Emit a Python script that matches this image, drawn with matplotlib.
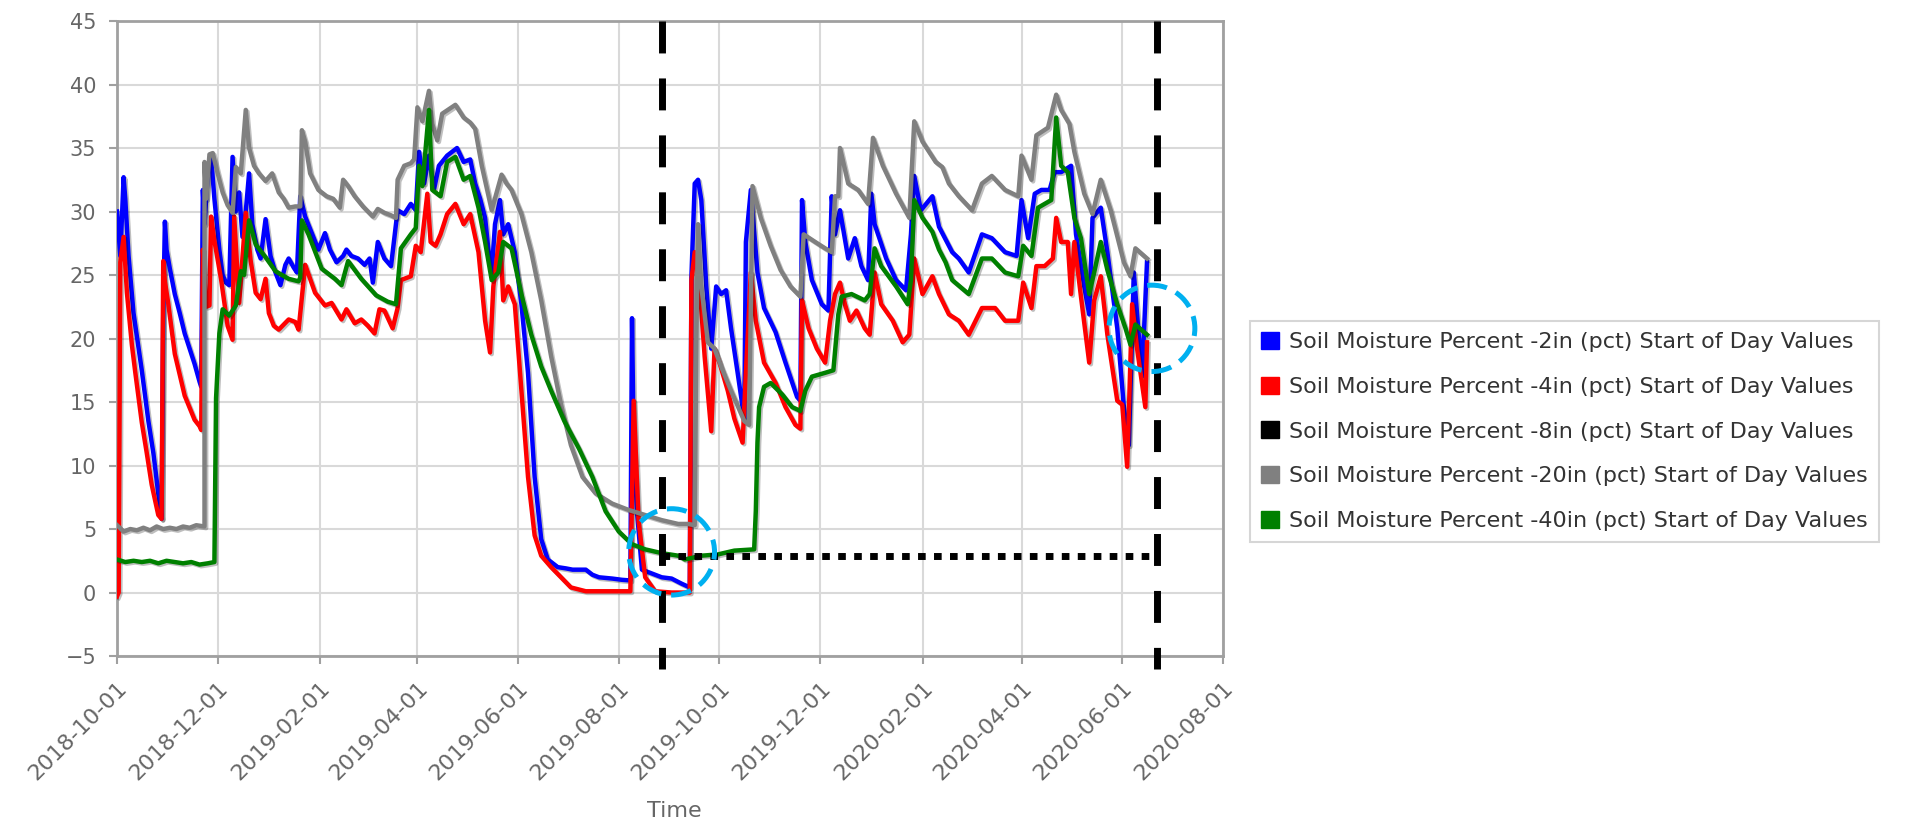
import datetime as dt
import matplotlib
matplotlib.use("Agg")
import matplotlib.pyplot as plt
import matplotlib.dates as mdates
import matplotlib.patheffects as pe
from matplotlib.patches import Patch, Ellipse

# day offsets are counted from the first day of the record
start = dt.date(2018, 10, 1)
end = dt.date(2020, 8, 1)

days_2in = [0, 2, 4, 5, 7, 10, 15, 19, 22, 25, 27, 28, 29, 30, 32, 35, 38, 41, 44, 47, 50, 51,
            52, 53, 55, 57, 59, 62, 64, 66, 68, 70, 72, 74, 76, 78, 80, 82, 85, 87, 90, 93, 96,
            99, 102, 104, 107, 109, 111, 114, 118, 122, 126, 129, 133, 137, 139, 142, 146, 150,
            153, 155, 158, 162, 166, 170, 174, 178, 181, 183, 186, 189, 192, 195, 200, 206, 210,
            214, 217, 220, 223, 225, 227, 229, 232, 234, 237, 241, 245, 249, 253, 257, 261, 267,
            272, 276, 284, 288, 292, 300, 306, 311, 312, 313, 315, 318, 324, 330, 336, 342, 347,
            348, 350, 352, 354, 357, 360, 363, 366, 369, 372, 376, 380, 381, 384, 388, 392, 399,
            405, 412, 414, 415, 417, 421, 427, 431, 433, 435, 438, 443, 447, 451, 455, 457, 459,
            466, 472, 478, 481, 483, 487, 494, 498, 506, 510, 516, 524, 530, 538, 545, 548, 552,
            556, 560, 565, 568, 572, 578, 581, 586, 589, 591, 596, 600, 606, 610, 613, 616, 618,
            621, 624]
pct_2in = [30.0, 26.5, 32.7, 31.0, 26.5, 22.0, 17.5, 13.5, 11.0, 7.8, 5.8, 22.0, 29.2, 27.0, 25.5,
           23.5, 22.0, 20.4, 19.2, 18.0, 16.6, 16.2, 31.7, 29.0, 33.0, 34.3, 31.0, 27.0, 25.0,
           24.4, 24.2, 34.3, 30.0, 31.5, 28.0, 30.0, 33.0, 29.0, 27.0, 26.3, 29.4, 26.5, 25.2,
           24.2, 25.8, 26.3, 25.6, 25.2, 31.2, 29.6, 28.3, 27.0, 28.3, 27.0, 26.0, 26.5, 27.0,
           26.5, 26.3, 25.8, 26.3, 24.4, 27.6, 26.3, 25.7, 30.1, 29.8, 30.6, 30.1, 34.7, 32.2,
           34.4, 31.7, 33.6, 34.4, 35.0, 33.9, 34.1, 32.2, 31.0, 29.5, 27.0, 25.2, 29.0, 30.9,
           28.2, 29.0, 26.8, 22.7, 17.3, 9.1, 4.2, 2.6, 2.0, 1.9, 1.8, 1.8, 1.4, 1.2, 1.1, 1.0,
           0.95, 21.6, 12.0, 6.4, 1.8, 1.5, 1.2, 1.1, 0.7, 0.4, 24.9, 32.2, 32.5, 30.9, 24.1,
           19.2, 24.1, 23.5, 23.8, 20.8, 17.3, 13.7, 27.6, 31.7, 25.2, 22.4, 20.5, 18.1, 15.4,
           15.1, 30.9, 27.6, 24.6, 22.7, 22.2, 31.2, 28.2, 30.1, 26.3, 27.9, 25.7, 24.6, 31.4,
           29.0, 26.3, 24.6, 23.8, 28.2, 32.8, 30.1, 31.2, 28.8, 26.8, 26.3, 25.2, 28.2, 27.9,
           26.8, 26.5, 30.9, 27.9, 31.4, 31.7, 31.7, 33.1, 33.1, 33.6, 28.2, 24.1, 21.9, 29.5,
           30.3, 26.8, 20.8, 14.6, 11.6, 25.2, 21.9, 17.0, 26.0]

days_4in = [0, 1, 2, 4, 6, 9, 11, 15, 18, 21, 25, 27, 28, 29, 31, 35, 41, 47, 50, 51, 52, 54,
            56, 57, 59, 63, 67, 70, 71, 74, 78, 81, 84, 87, 90, 92, 95, 98, 104, 108, 110, 114,
            120, 126, 130, 136, 139, 144, 148, 152, 156, 159, 162, 167, 170, 172, 178, 181, 184,
            188, 190, 193, 196, 200, 205, 210, 214, 219, 223, 226, 228, 232, 234, 237, 241, 245,
            249, 253, 257, 263, 269, 275, 284, 300, 311, 313, 316, 320, 326, 336, 347, 348, 350,
            353, 356, 360, 362, 365, 370, 374, 379, 381, 384, 387, 392, 399, 405, 411, 414, 415,
            419, 424, 429, 432, 435, 438, 441, 444, 448, 453, 456, 459, 463, 470, 476, 480, 483,
            488, 494, 498, 504, 510, 516, 524, 532, 538, 546, 549, 554, 557, 562, 567, 569, 572,
            576, 578, 580, 584, 589, 592, 596, 600, 606, 609, 612, 615, 618, 623, 624]
pct_4in = [-0.3, 0.0, 26.0, 28.0, 23.6, 19.5, 17.4, 13.4, 11.0, 8.5, 6.1, 5.8, 26.1, 24.5, 22.8,
           18.8, 15.5, 13.6, 13.1, 12.8, 27.0, 22.5, 22.6, 29.6, 27.7, 24.7, 21.0, 19.9, 29.6,
           22.8, 29.9, 26.1, 23.6, 23.1, 24.7, 22.0, 21.0, 20.7, 21.5, 21.3, 20.7, 25.8, 23.6,
           22.6, 22.8, 21.5, 22.3, 21.2, 21.5, 21.0, 20.4, 22.3, 22.2, 20.8, 22.4, 24.6, 24.9,
           27.3, 26.8, 31.4, 27.6, 27.3, 28.2, 29.8, 30.6, 29.0, 29.8, 26.8, 21.4, 18.9, 24.1,
           28.4, 23.0, 24.1, 22.7, 15.9, 9.1, 4.5, 2.9, 2.0, 1.2, 0.4, 0.1, 0.1, 0.1, 15.1, 5.6,
           1.2, 0.1, 0.0, 0.0, 24.6, 26.8, 24.1, 18.6, 12.7, 19.2, 18.1, 15.9, 13.7, 11.8, 17.3,
           25.2, 21.4, 18.1, 16.5, 14.6, 13.2, 12.9, 23.0, 20.8, 19.2, 18.1, 21.4, 23.5, 24.4,
           22.7, 21.4, 22.2, 20.8, 20.3, 25.2, 22.7, 21.4, 19.7, 20.3, 26.3, 23.5, 24.9, 23.5,
           21.9, 21.4, 20.3, 22.4, 22.4, 21.4, 21.4, 24.4, 22.4, 25.7, 25.7, 26.3, 29.5, 27.6,
           27.6, 23.5, 27.6, 23.3, 18.1, 23.0, 24.9, 20.3, 15.1, 14.8, 9.9, 22.7, 19.2, 14.6, 19.7]

# the 8in sensor reported nothing over this period
days_8in = []
pct_8in = []

days_20in = [0, 4, 8, 12, 16, 20, 24, 28, 32, 36, 40, 44, 48, 53, 53, 54, 56, 58, 61, 64, 67,
             70, 72, 75, 78, 80, 83, 86, 90, 94, 98, 101, 104, 108, 111, 112, 114, 117, 122, 127,
             131, 135, 137, 140, 144, 149, 155, 158, 162, 166, 169, 170, 174, 178, 180, 182, 185,
             189, 191, 194, 197, 205, 210, 214, 217, 221, 227, 230, 233, 236, 239, 245, 251, 257,
             263, 269, 275, 282, 290, 300, 310, 320, 330, 340, 346, 350, 351, 352, 354, 358, 362,
             366, 372, 380, 383, 385, 390, 396, 402, 408, 414, 416, 423, 429, 433, 435, 437, 438,
             443, 449, 455, 458, 464, 472, 480, 483, 488, 496, 500, 504, 510, 518, 524, 530, 538,
             546, 548, 554, 557, 564, 569, 572, 577, 580, 586, 591, 596, 602, 610, 614, 617, 624]
pct_20in = [5.3, 4.8, 5.0, 4.9, 5.1, 4.9, 5.2, 5.0, 5.1, 5.0, 5.2, 5.1, 5.3, 5.2, 33.9, 31.0, 34.5,
            34.6, 33.0, 31.5, 30.5, 29.9, 33.5, 33.0, 38.0, 35.0, 33.6, 33.0, 32.4, 33.0, 31.5,
            31.0, 30.3, 30.4, 30.4, 36.4, 35.5, 33.0, 31.7, 31.2, 31.0, 30.3, 32.5, 32.0, 31.2,
            30.4, 29.6, 30.2, 29.9, 29.7, 29.5, 32.5, 33.6, 33.8, 34.1, 38.2, 37.1, 39.5, 36.9,
            35.6, 37.7, 38.4, 37.4, 37.0, 36.5, 33.6, 30.1, 31.5, 32.9, 32.2, 31.7, 29.8, 26.8,
            23.0, 18.6, 14.8, 11.6, 9.1, 7.8, 7.0, 6.5, 6.1, 5.7, 5.4, 5.4, 5.3, 20.0, 29.0, 24.1,
            19.7, 19.2, 17.8, 15.9, 13.5, 13.2, 32.0, 29.5, 27.3, 25.4, 24.1, 23.3, 28.2, 27.6,
            27.1, 26.8, 31.2, 31.2, 35.0, 32.2, 31.7, 30.6, 35.8, 33.6, 31.4, 29.5, 37.1, 35.5,
            33.9, 33.5, 32.2, 31.2, 30.1, 32.2, 32.8, 31.7, 31.2, 34.4, 32.5, 36.0, 36.6, 39.2,
            38.0, 36.9, 34.7, 31.4, 29.8, 32.5, 30.1, 26.0, 24.9, 27.1, 26.3]

days_40in = [0, 5, 10, 15, 20, 25, 30, 35, 40, 45, 50, 55, 59, 60, 62, 64, 68, 72, 75, 77, 80, 84,
             90, 96, 104, 110, 111, 112, 116, 124, 132, 136, 140, 148, 157, 164, 169, 172, 178,
             181, 183, 185, 189, 191, 196, 200, 205, 210, 214, 219, 223, 227, 231, 234, 239, 245,
             251, 257, 263, 271, 280, 288, 296, 304, 312, 320, 330, 340, 344, 354, 364, 374, 386,
             387, 388, 389, 392, 396, 403, 409, 414, 417, 421, 429, 434, 437, 439, 445, 453, 456,
             459, 463, 472, 479, 481, 483, 488, 494, 498, 502, 506, 516, 524, 530, 538, 546, 549,
             554, 558, 566, 569, 572, 576, 580, 584, 589, 592, 596, 600, 606, 611, 614, 617, 624]
pct_40in = [2.6, 2.4, 2.5, 2.4, 2.5, 2.3, 2.5, 2.4, 2.3, 2.4, 2.2, 2.3, 2.4, 15.3, 20.4, 22.3, 21.8,
            22.6, 25.3, 25.0, 29.3, 27.4, 26.4, 25.3, 24.7, 24.5, 24.8, 29.3, 28.2, 25.5, 24.7,
            24.2, 26.1, 24.7, 23.4, 22.9, 22.7, 27.1, 28.2, 28.7, 33.6, 32.0, 38.0, 31.7, 31.2,
            33.9, 34.3, 32.5, 32.8, 30.3, 27.6, 24.6, 25.2, 27.6, 27.1, 23.5, 20.3, 17.8, 15.9,
            13.5, 11.3, 9.1, 6.4, 4.8, 3.8, 3.4, 3.1, 2.9, 2.6, 2.9, 3.0, 3.3, 3.4, 6.4, 11.8,
            14.6, 16.2, 16.5, 15.6, 14.6, 14.3, 15.9, 17.0, 17.3, 17.5, 21.9, 23.3, 23.5, 23.0,
            23.5, 27.1, 25.7, 24.1, 22.7, 24.6, 30.9, 29.5, 28.4, 27.0, 26.0, 24.6, 23.5, 26.3,
            26.3, 25.2, 24.9, 27.3, 26.5, 30.3, 30.9, 37.4, 33.6, 33.1, 29.5, 27.9, 23.5, 25.2,
            27.6, 25.4, 22.7, 20.8, 19.5, 21.1, 20.3]

series_labels = [
    "Soil Moisture Percent -2in (pct) Start of Day Values",
    "Soil Moisture Percent -4in (pct) Start of Day Values",
    "Soil Moisture Percent -8in (pct) Start of Day Values",
    "Soil Moisture Percent -20in (pct) Start of Day Values",
    "Soil Moisture Percent -40in (pct) Start of Day Values",
]
series_colors = ["#0000ff", "#ff0000", "#000000", "#808080", "#008000"]

tick_dates = ["2018-10-01", "2018-12-01", "2019-02-01", "2019-04-01", "2019-06-01", "2019-08-01",
              "2019-10-01", "2019-12-01", "2020-02-01", "2020-04-01", "2020-06-01", "2020-08-01"]

# annotations drawn over the chart
window_start = dt.date(2019, 8, 27)
window_end = dt.date(2020, 6, 22)
baseline_pct = 2.9
circle_1 = (dt.date(2019, 9, 2), 3.2)
circle_2 = (dt.date(2020, 6, 19), 20.8)


def to_dates(days):
    return [start + dt.timedelta(days=d) for d in days]


fig = plt.figure(figsize=(19.12, 8.3), dpi=100)
ax = fig.add_axes([0.0612, 0.2096, 0.5784, 0.7651])

shadow = [pe.SimpleLineShadow(offset=(1.2, -1.2), shadow_color="black", alpha=0.25), pe.Normal()]
all_days = [days_2in, days_4in, days_8in, days_20in, days_40in]
all_pct = [pct_2in, pct_4in, pct_8in, pct_20in, pct_40in]
for days, pct, color in zip(all_days, all_pct, series_colors):
    if not days:
        continue
    ax.plot(to_dates(days), pct, color=color, lw=3.2, solid_joinstyle="round",
            path_effects=shadow, zorder=3)

ax.set_xlim(start, end)
ax.set_ylim(-5, 45)
ax.set_yticks(range(-5, 50, 5))
ticks = [dt.date.fromisoformat(t) for t in tick_dates]
ax.set_xticks(ticks)
ax.set_xticklabels(tick_dates, rotation=45, ha="right", rotation_mode="anchor")
ax.grid(True, color="#d9d9d9", lw=1.5)
ax.set_axisbelow(True)
for sp in ax.spines.values():
    sp.set_color("#a0a0a0")
    sp.set_linewidth(2)
ax.tick_params(colors="#a0a0a0", labelcolor="#666666", length=6, width=1.5)
ax.tick_params(axis="y", labelsize=15, pad=9)
ax.tick_params(axis="x", labelsize=16, pad=10)

# vertical dashed window and the dotted baseline between them
for d in (window_start, window_end):
    ax.plot([d, d], [45, -6], color="black", lw=5, dashes=(4.6, 3.6),
            solid_capstyle="butt", dash_capstyle="butt", clip_on=False, zorder=5)
ax.plot([window_start, window_end], [baseline_pct, baseline_pct], color="black", lw=5,
        dashes=(1.1, 1.2), dash_capstyle="butt", zorder=5)

for (cd, cy) in (circle_1, circle_2):
    ax.add_patch(Ellipse((mdates.date2num(cd), cy), width=52, height=6.8, fill=False,
                         edgecolor="#00b0f0", lw=3.6, linestyle=(0, (4, 2)), zorder=6,
                         clip_on=False))

fig.text(674 / 1912, 1 - 811 / 830, "Time", ha="center", va="center", fontsize=16,
         color="#666666")

handles = [Patch(facecolor=c, edgecolor=c) for c in series_colors]
leg = fig.legend(handles, series_labels, loc="upper left", bbox_to_anchor=(0.6538, 0.6133),
                 fontsize=16, frameon=True, fancybox=False, edgecolor="#cccccc",
                 handlelength=0.8, handleheight=0.8, handletextpad=0.45, labelspacing=1.1,
                 borderpad=0.5, borderaxespad=0)
leg.get_frame().set_linewidth(1.5)
for t in leg.get_texts():
    t.set_color("#333333")

fig.savefig("out.png", dpi=100)
